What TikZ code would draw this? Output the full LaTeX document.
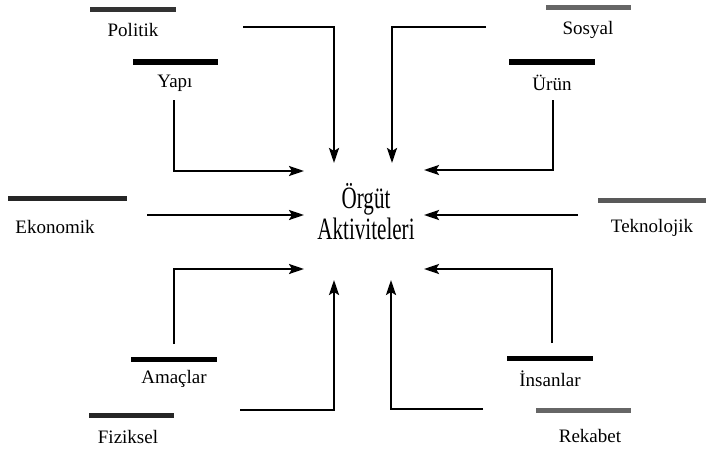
\documentclass[tikz,border=0pt]{standalone}
\usepackage{fontspec}
\setmainfont{Liberation Serif}
\usetikzlibrary{arrows.meta}
\begin{document}
\begin{tikzpicture}[x=1pt,y=-1pt,
  lbl/.style={font=\fontsize{19}{21}\selectfont, inner sep=0pt, anchor=center},
  bar/.style={line width=5pt},
  conn/.style={line width=2.2pt, -{Stealth[length=15pt,width=10pt,inset=3pt]}}]
\useasboundingbox (0,0) rectangle (706,452);
% center
\node[inner sep=0pt, align=center, xscale=0.68, font=\fontsize{31}{31}\selectfont] (c) at (366,212) {Örgüt\\Aktiviteleri};
% labels
\node[lbl] (pol) at (133,30) {Politik};
\node[lbl] (yap) at (175,83) {Yapı};
\node[lbl] (eko) at (55,227) {Ekonomik};
\node[lbl] (ama) at (174,379) {Amaçlar};
\node[lbl] (fiz) at (128,437) {Fiziksel};
\node[lbl] (sos) at (588,30) {Sosyal};
\node[lbl] (uru) at (552,83) {Ürün};
\node[lbl] (tek) at (652,228) {Teknolojik};
\node[lbl] (ins) at (550,379) {İnsanlar};
\node[lbl] (rek) at (590,436) {Rekabet};
% bars
\draw[bar, black!80] (90,10) -- (176,10);
\draw[bar] (133,62) -- (218,62);
\draw[bar, black!85] (8,198) -- (127,198);
\draw[bar] (131,359) -- (217,359);
\draw[bar, black!85] (89,415) -- (174,415);
\draw[bar, black!60] (546,8) -- (631,8);
\draw[bar] (509,62) -- (595,62);
\draw[bar, black!65] (598,200) -- (706,200);
\draw[bar] (507,358) -- (593,358);
\draw[bar, black!60] (536,410) -- (631,410);
% connector coordinates
\coordinate (polS) at (243,27);  \coordinate (polE) at (334,163);
\coordinate (yapS) at (174,100); \coordinate (yapE) at (304,171);
\coordinate (ekoS) at (147,215); \coordinate (ekoE) at (304,215);
\coordinate (amaS) at (174,344); \coordinate (amaE) at (304,269);
\coordinate (fizS) at (240,410); \coordinate (fizE) at (334,280);
\coordinate (sosS) at (486,27);  \coordinate (sosE) at (392,163);
\coordinate (uruS) at (553,100); \coordinate (uruE) at (424,170);
\coordinate (tekS) at (578,215); \coordinate (tekE) at (424,215);
\coordinate (insS) at (552,343); \coordinate (insE) at (424,269);
\coordinate (rekS) at (483,409); \coordinate (rekE) at (391,280);
% connectors
\draw[conn] (polS) -| (polE);
\draw[conn] (yapS) |- (yapE);
\draw[conn] (ekoS) -- (ekoE);
\draw[conn] (amaS) |- (amaE);
\draw[conn] (fizS) -| (fizE);
\draw[conn] (sosS) -| (sosE);
\draw[conn] (uruS) |- (uruE);
\draw[conn] (tekS) -- (tekE);
\draw[conn] (insS) |- (insE);
\draw[conn] (rekS) -| (rekE);
\end{tikzpicture}
\end{document}
